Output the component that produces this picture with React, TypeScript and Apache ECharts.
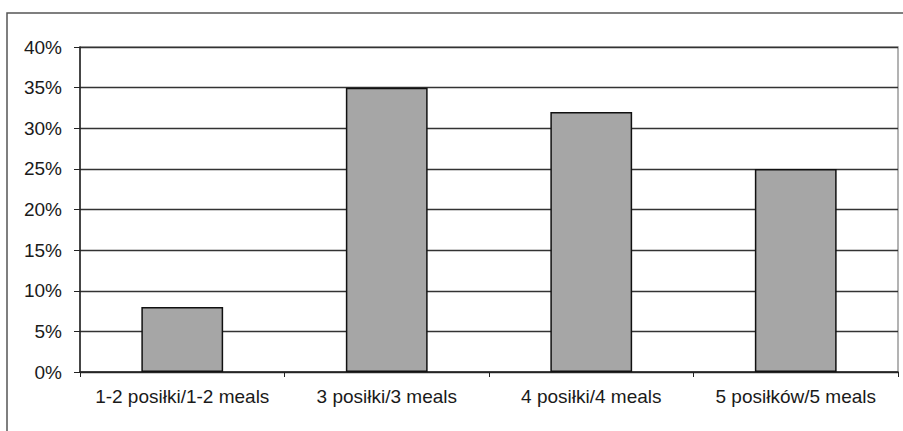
import React, { useEffect, useRef } from "react";
import * as echarts from "echarts";

const categories = [
  "1-2 posiłki/1-2 meals",
  "3 posiłki/3 meals",
  "4 posiłki/4 meals",
  "5 posiłków/5 meals",
];
const values = [8, 35, 32, 25];
const yTicks = { min: 0, max: 40, interval: 5 };

export default function App() {
  const ref = useRef<HTMLDivElement>(null);
  useEffect(() => {
    document.body.style.margin = "0";
    const chart = echarts.init(ref.current!, null, { renderer: "svg" });
    chart.setOption({
      animation: false,
      backgroundColor: "#ffffff",
      graphic: [
        {
          type: "rect",
          shape: { x: 7, y: 13, width: 920, height: 440 },
          style: { fill: "none", stroke: "#555555", lineWidth: 1.5 },
          silent: true,
        },
      ],
      grid: {
        left: 80,
        top: 47,
        right: 5,
        bottom: 59,
        show: true,
        borderColor: "#9a9a9a",
        borderWidth: 1.5,
        backgroundColor: "transparent",
      },
      xAxis: {
        type: "category",
        data: categories,
        axisLine: { lineStyle: { color: "#222222", width: 1.5 } },
        axisTick: { show: true, interval: 0, length: 5, lineStyle: { color: "#222222" } },
        axisLabel: {
          interval: 0,
          hideOverlap: false,
          margin: 15,
          fontFamily: "Liberation Sans, Arial, sans-serif",
          fontSize: 19,
          color: "#1a1a1a",
        },
      },
      yAxis: {
        type: "value",
        min: yTicks.min,
        max: yTicks.max,
        interval: yTicks.interval,
        axisLine: { show: true, lineStyle: { color: "#222222", width: 1.5 } },
        axisTick: { show: true, length: 6, lineStyle: { color: "#222222" } },
        splitLine: { lineStyle: { color: "#333333", width: 1.3 } },
        axisLabel: {
          margin: 18,
          formatter: "{value}%",
          fontFamily: "Liberation Sans, Arial, sans-serif",
          fontSize: 19,
          color: "#1a1a1a",
        },
      },
      series: [
        {
          type: "bar",
          data: values,
          barCategoryGap: "60%",
          itemStyle: { color: "#a6a6a6", borderColor: "#111111", borderWidth: 1.5 },
        },
      ],
    });
    return () => chart.dispose();
  }, []);
  return <div ref={ref} style={{ width: 903, height: 431 }} />;
}
